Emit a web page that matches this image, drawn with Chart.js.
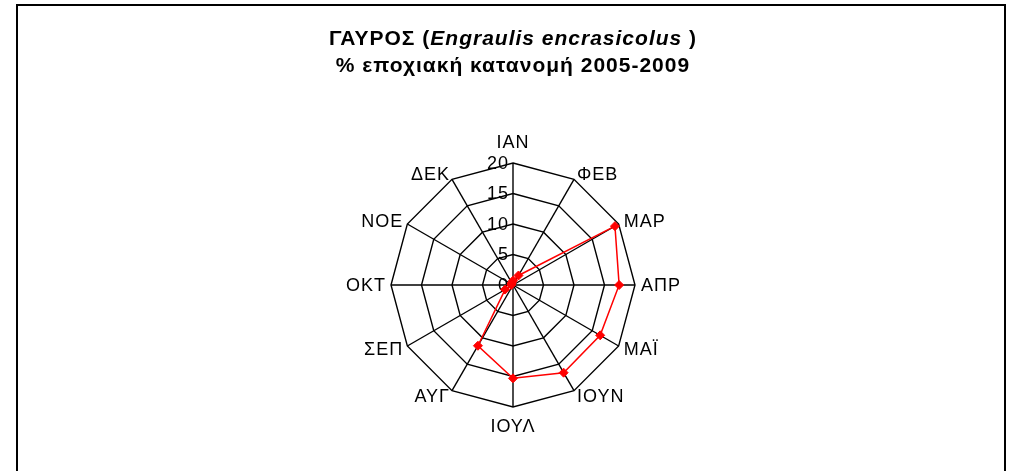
<!DOCTYPE html>
<html lang="el">
<head>
<meta charset="utf-8">
<title>ΓΑΥΡΟΣ - εποχιακή κατανομή</title>
<script src="https://cdn.jsdelivr.net/npm/chart.js@4.4.1/dist/chart.umd.min.js"></script>
<style>
  html, body { margin: 0; padding: 0; background: #fff; width: 1010px; height: 471px; overflow: hidden; }
  #frame { position: absolute; left: 16px; top: 4px; width: 990px; height: 520px; border: 2px solid #000; box-sizing: border-box; }
  #chart { position: absolute; left: 0; top: 0; }
  #title {
    position: absolute; left: 0; top: 24px; width: 1026px; text-align: center;
    font: bold 21px/27px "Liberation Sans", Arial, sans-serif; color: #000; letter-spacing: 1px;
  }
</style>
</head>
<body>
<div id="frame"></div>
<canvas id="chart" width="1010" height="471"></canvas>
<div id="title">ΓΑΥΡΟΣ (<i>Engraulis encrasicolus</i> )<br>% εποχιακή κατανομή 2005-2009</div>

<script>
// months (Greek abbreviations) and % share per month
const months = ['ΙΑΝ', 'ΦΕΒ', 'ΜΑΡ', 'ΑΠΡ', 'ΜΑΪ', 'ΙΟΥΝ', 'ΙΟΥΛ', 'ΑΥΓ', 'ΣΕΠ', 'ΟΚΤ', 'ΝΟΕ', 'ΔΕΚ'];
const share  = [0.7, 1.8, 19.3, 17.4, 16.5, 16.6, 15.3, 11.5, 1.5, 0.3, 0.3, 0.4];
const tickValues = [0, 5, 10, 15, 20];

const labelFont = '18px "Liberation Sans", Arial, sans-serif';

// draws the month names and the 0..20 scale text in the Excel style
const radarText = {
  id: 'radarText',
  beforeDatasetsDraw(chart) {
    const r = chart.scales.r;
    const ctx = chart.ctx;
    ctx.save();
    ctx.fillStyle = '#000';
    ctx.font = labelFont;
    ctx.letterSpacing = '1px';
    ctx.textAlign = 'right';
    ctx.textBaseline = 'middle';
    tickValues.forEach(v => {
      ctx.fillText(String(v), r.xCenter - 4, r.yCenter - r.getDistanceFromCenterForValue(v) + 1);
    });
    ctx.restore();
  },
  afterDraw(chart) {
    const r = chart.scales.r;
    const ctx = chart.ctx;
    ctx.save();
    ctx.fillStyle = '#000';
    ctx.font = labelFont;
    ctx.letterSpacing = '1px';
    ctx.textBaseline = 'middle';
    months.forEach((m, i) => {
      const p = r.getPointPosition(i, r.drawingArea + 6);
      let x = p.x, y = p.y + 1;
      if (p.x > r.xCenter + 1) ctx.textAlign = 'left';
      else if (p.x < r.xCenter - 1) { ctx.textAlign = 'right'; x += 1; }
      else {
        ctx.textAlign = 'center';
        y = p.y < r.yCenter ? p.y - 14 : p.y + 14;
      }
      ctx.fillText(m, x, y);
    });
    ctx.restore();
  }
};

const ctx = document.getElementById('chart').getContext('2d');
const chart = new Chart(ctx, {
  type: 'radar',
  data: {
    labels: months,
    datasets: [{
      label: 'ΓΑΥΡΟΣ',
      data: share,
      borderColor: '#ff0000',
      borderWidth: 1.5,
      fill: false,
      pointStyle: 'rectRot',
      pointRadius: 4.5,
      pointBackgroundColor: '#ff0000',
      pointBorderColor: '#ff0000',
      pointBorderWidth: 1
    }]
  },
  options: {
    responsive: false,
    animation: false,
    layout: { padding: { left: 391, right: 375, top: 163, bottom: 64 } },
    plugins: { legend: { display: false }, tooltip: { enabled: false } },
    scales: {
      r: {
        min: 0,
        max: 20,
        ticks: { stepSize: 5, display: false },
        pointLabels: { display: false },
        grid: { color: '#000', lineWidth: 1.4 },
        angleLines: { color: '#000', lineWidth: 1.4 }
      }
    }
  },
  plugins: [radarText]
});
</script>
</body>
</html>
